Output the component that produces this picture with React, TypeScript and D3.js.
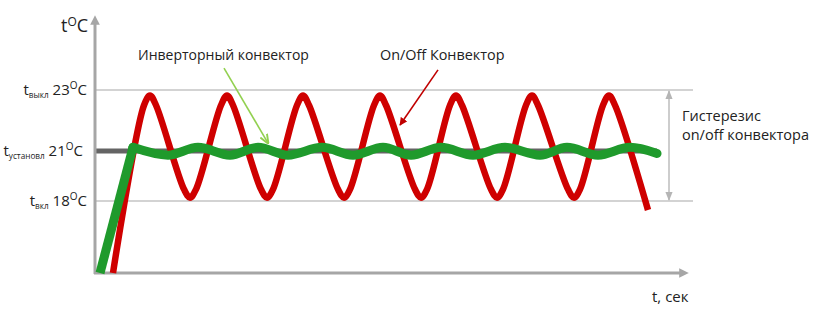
import React from "react";
import * as d3 from "d3";

// ---- data ----
const tickTemps = [23, 21, 18];
const tickSubs = ["выкл", "установл", "вкл"];

const setpointTemp = 21;
const setpointEnd = 562;

// On/Off convector (red): time (arbitrary units) and temperature (°C), read at shoulders / peaks / troughs
const redTime = [
  18,
  49, 55, 61, 89, 95, 101,
  126, 132, 138, 166, 172, 178,
  202, 208, 214, 243, 249, 255,
  279, 285, 291, 320, 326, 332,
  355, 361, 367, 396, 402, 408,
  431, 437, 443, 473, 479, 485,
  508, 514, 520,
  553,
];
const redTemp = [
  14,
  22.5, 22.82, 22.5, 18.7, 18.2, 18.7,
  22.5, 22.82, 22.5, 18.7, 18.2, 18.7,
  22.5, 22.82, 22.5, 18.7, 18.2, 18.7,
  22.5, 22.82, 22.5, 18.7, 18.2, 18.7,
  22.5, 22.82, 22.5, 18.7, 18.2, 18.7,
  22.5, 22.82, 22.5, 18.7, 18.2, 18.7,
  22.5, 22.82, 22.5,
  17.5,
];

// Inverter convector (green): initial rise, then small oscillation
const greenRiseTime = [5, 38];
const greenRiseTemp = [14, 21.12];
const greenTime = [38, 73, 103, 135, 163, 193, 227, 258, 288, 316, 346, 378, 410, 445, 472, 503, 535, 562];
const greenTemp = [21.12, 20.75, 21.12, 20.75, 21.12, 20.75, 21.12, 20.75, 21.12, 20.75, 21.12, 20.75, 21.12, 20.75, 21.12, 20.75, 21.12, 20.85];

const FONT = "'Open Sans', sans-serif";

export default function App() {
  const W = 827, H = 313;
  const x = d3.scaleLinear().domain([0, 600]).range([95, 695]);
  const y = d3.scaleLinear().domain([14, 18, 21, 23]).range([273, 201, 151, 90]);

  const line = d3.line<[number, number]>().x((d) => x(d[0])).y((d) => y(d[1]));
  const rounded = d3
    .line<[number, number]>()
    .x((d) => x(d[0]))
    .y((d) => y(d[1]))
    .curve(d3.curveCatmullRom.alpha(0.5));
  const smooth = d3
    .line<[number, number]>()
    .x((d) => x(d[0]))
    .y((d) => y(d[1]))
    .curve(d3.curveMonotoneX);

  const redPts = redTime.map((t, i) => [t, redTemp[i]] as [number, number]);
  const riseG = greenRiseTime.map((t, i) => [t, greenRiseTemp[i]] as [number, number]);
  const waveG = greenTime.map((t, i) => [t, greenTemp[i]] as [number, number]);

  const axisColor = "#a6a6a6";
  const gridColor = "#c4c4c4";
  const x0 = x(0);
  const yBottom = y(14);

  return (
    <svg
      width={W}
      height={H}
      style={{ position: "absolute", left: 0, top: 0, background: "#fff" }}
      fontFamily={FONT}
    >
      <defs>
        <marker id="axArrow" viewBox="0 0 10 10" refX="5" refY="5" markerWidth="3.2" markerHeight="3.2" orient="auto">
          <path d="M0,0 L10,5 L0,10 z" fill={axisColor} />
        </marker>
        <marker id="gArrow" viewBox="0 0 10 10" refX="9" refY="5" markerWidth="6" markerHeight="6" orient="auto">
          <path d="M0,1 L10,5 L0,9" fill="none" stroke="#92d050" strokeWidth="2" />
        </marker>
        <marker id="rArrow" viewBox="0 0 10 10" refX="9" refY="5" markerWidth="5" markerHeight="5" orient="auto">
          <path d="M0,0 L10,5 L0,10 z" fill="#c00000" />
        </marker>
        <marker id="hArrow" viewBox="0 0 10 10" refX="9" refY="5" markerWidth="6" markerHeight="6" orient="auto-start-reverse">
          <path d="M0,1 L10,5 L0,9 z" fill="#b5b5b5" />
        </marker>
      </defs>

      {/* grid lines at 23 and 18 */}
      {[23, 18].map((t) => (
        <line key={t} x1={x0} x2={x(598)} y1={y(t)} y2={y(t)} stroke={gridColor} strokeWidth={1.3} />
      ))}

      {/* setpoint line */}
      <line x1={x0} x2={x(setpointEnd)} y1={y(setpointTemp)} y2={y(setpointTemp)} stroke="#646464" strokeWidth={5} />

      {/* axes */}
      <line x1={x0} x2={x0} y1={yBottom + 1} y2={20} stroke={axisColor} strokeWidth={3} markerEnd="url(#axArrow)" />
      <line x1={x0 - 1} x2={x(589)} y1={yBottom} y2={yBottom} stroke={axisColor} strokeWidth={3} markerEnd="url(#axArrow)" />

      {/* red on/off curve */}
      <path d={rounded(redPts) || ""} fill="none" stroke="#cf0000" strokeWidth={6.5} strokeLinejoin="round" strokeLinecap="butt" />

      {/* green inverter curve */}
      <path d={line(riseG) || ""} fill="none" stroke="#1f9a2c" strokeWidth={9} strokeLinecap="butt" />
      <path d={smooth(waveG) || ""} fill="none" stroke="#1f9a2c" strokeWidth={9} strokeLinecap="round" />
      <circle cx={x(greenRiseTime[1])} cy={y(greenRiseTemp[1])} r={4.5} fill="#1f9a2c" />

      {/* y tick labels */}
      {tickTemps.map((t, i) => (
        <text key={t} x={i === 1 ? 83 : 87} y={y(t) + 5} textAnchor="end" fontSize={15} fill="#222">
          <tspan>t</tspan>
          <tspan fontSize={8.2} dy={3}>{tickSubs[i]}</tspan>
          <tspan fontSize={15} dy={-3}>{" " + t}</tspan>
          <tspan fontSize={10} dy={-6}>O</tspan>
          <tspan fontSize={15} dy={6}>C</tspan>
        </text>
      ))}

      {/* y axis title */}
      <text x={61} y={32} fontSize={18} fill="#222">
        <tspan>t</tspan>
        <tspan fontSize={12} dy={-6}>O</tspan>
        <tspan fontSize={18} dy={6}>C</tspan>
      </text>

      {/* x axis title */}
      <text x={652} y={302} fontSize={15} fill="#222">t, сек</text>

      {/* annotations */}
      <text x={138} y={60} fontSize={14} fill="#222">Инверторный конвектор</text>
      <line x1={x(129)} y1={y(23.72)} x2={x(173)} y2={y(21.26)} stroke="#92d050" strokeWidth={1.6} markerEnd="url(#gArrow)" />

      <text x={380} y={60} fontSize={14.4} fill="#222">On/Off Конвектор</text>
      <line x1={x(343)} y1={y(23.66)} x2={x(305)} y2={y(21.85)} stroke="#c00000" strokeWidth={1.6} markerEnd="url(#rArrow)" />

      {/* hysteresis */}
      <line x1={x(574)} x2={x(574)} y1={y(23) + 1} y2={y(18) - 1} stroke="#bdbdbd" strokeWidth={1.5} markerStart="url(#hArrow)" markerEnd="url(#hArrow)" />
      <text x={682} y={121} fontSize={14.5} fill="#222">Гистерезис</text>
      <text x={682} y={140} fontSize={14.5} fill="#222">on/off конвектора</text>
    </svg>
  );
}
